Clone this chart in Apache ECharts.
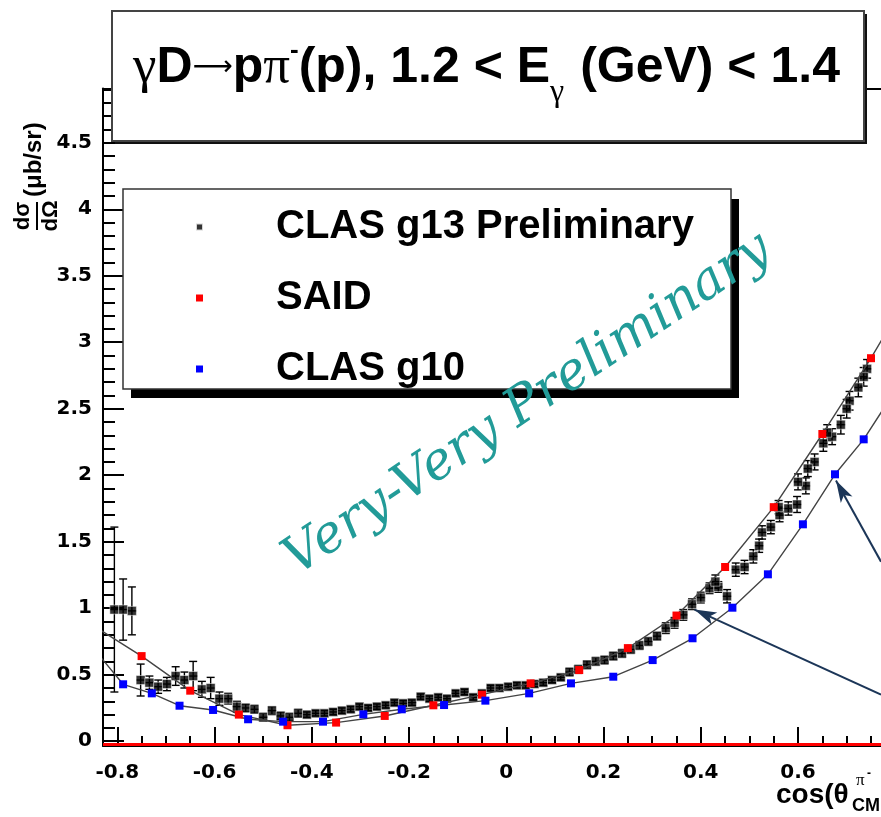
<!DOCTYPE html>
<html>
<head>
<meta charset="utf-8">
<script src="https://cdn.jsdelivr.net/npm/echarts@6/dist/echarts.min.js"></script>
<style>
  html, body { margin: 0; padding: 0; background: #fff; }
  #chart { width: 881px; height: 817px; }
</style>
</head>
<body>
<div id="chart"></div>
<script>
// CLAS g13 preliminary: cos(theta_CM) bin centres, dsigma/dOmega (ub/sr), stat. errors
const g13X = [-0.806, -0.788, -0.770, -0.752, -0.734, -0.716, -0.698, -0.680, -0.662, -0.644,
  -0.626, -0.608, -0.590, -0.572, -0.554, -0.536, -0.518, -0.500, -0.482, -0.464,
  -0.446, -0.428, -0.410, -0.392, -0.374, -0.356, -0.338, -0.320, -0.302, -0.284,
  -0.266, -0.248, -0.230, -0.212, -0.194, -0.176, -0.158, -0.140, -0.122, -0.104,
  -0.086, -0.068, -0.050, -0.032, -0.014, 0.004, 0.022, 0.040, 0.058, 0.076,
  0.094, 0.112, 0.130, 0.148, 0.166, 0.184, 0.202, 0.220, 0.238, 0.256,
  0.274, 0.292, 0.310, 0.328, 0.346, 0.364, 0.382, 0.400, 0.418, 0.436,
  0.454, 0.472, 0.490, 0.508, 0.526, 0.544, 0.562, 0.580, 0.598, 0.616,
  0.634, 0.652, 0.670, 0.688, 0.706, 0.724, 0.742,
  0.430, 0.520, 0.560, 0.600, 0.620, 0.660, 0.700, 0.735];
const g13Y = [0.99, 0.99, 0.98, 0.46, 0.44, 0.41, 0.43, 0.49, 0.46, 0.49,
  0.39, 0.40, 0.32, 0.32, 0.26, 0.25, 0.24, 0.18, 0.23, 0.19,
  0.18, 0.21, 0.20, 0.21, 0.21, 0.22, 0.23, 0.24, 0.26, 0.25,
  0.26, 0.27, 0.29, 0.285, 0.29, 0.335, 0.32, 0.33, 0.32, 0.36,
  0.37, 0.33, 0.36, 0.40, 0.40, 0.41, 0.42, 0.42, 0.43, 0.44,
  0.46, 0.48, 0.52, 0.54, 0.575, 0.60, 0.61, 0.64, 0.66, 0.69,
  0.72, 0.75, 0.79, 0.85, 0.89, 0.95, 1.03, 1.08, 1.15, 1.16,
  1.09, 1.29, 1.31, 1.39, 1.57, 1.61, 1.70, 1.75, 1.78, 1.92,
  2.10, 2.24, 2.29, 2.38, 2.56, 2.66, 2.80,
  1.20, 1.47, 1.76, 1.95, 2.05, 2.32, 2.50, 2.74];
const g13Err = [0.62, 0.23, 0.18, 0.12, 0.05, 0.05, 0.05, 0.07, 0.06, 0.11,
  0.06, 0.08, 0.05, 0.04, 0.04, 0.03, 0.03, 0.03, 0.03, 0.03,
  0.03, 0.03, 0.02, 0.02, 0.02, 0.02, 0.02, 0.02, 0.02, 0.02,
  0.02, 0.02, 0.02, 0.02, 0.02, 0.02, 0.02, 0.02, 0.02, 0.02,
  0.02, 0.02, 0.02, 0.02, 0.02, 0.02, 0.02, 0.02, 0.02, 0.02,
  0.02, 0.02, 0.03, 0.03, 0.03, 0.03, 0.03, 0.03, 0.03, 0.03,
  0.03, 0.03, 0.03, 0.04, 0.04, 0.04, 0.04, 0.04, 0.04, 0.04,
  0.05, 0.05, 0.05, 0.05, 0.05, 0.05, 0.05, 0.05, 0.06, 0.06,
  0.06, 0.06, 0.06, 0.07, 0.07, 0.07, 0.07,
  0.05, 0.05, 0.05, 0.06, 0.06, 0.06, 0.07, 0.07];
const g13HalfBin = 0.009;

// SAID partial-wave solution
const saidX = [-0.85, -0.75, -0.65, -0.55, -0.45, -0.35, -0.25, -0.15, -0.05,
  0.05, 0.15, 0.25, 0.35, 0.45, 0.55, 0.65, 0.75, 0.85];
const saidY = [0.87, 0.64, 0.38, 0.20, 0.12, 0.14, 0.19, 0.27, 0.35,
  0.435, 0.535, 0.70, 0.945, 1.31, 1.76, 2.31, 2.88, 3.50];

// CLAS g10 measurement
const g10X = [-0.845, -0.788, -0.729, -0.672, -0.603, -0.531, -0.459, -0.377, -0.294, -0.215,
  -0.128, -0.043, 0.047, 0.133, 0.220, 0.301, 0.383, 0.465, 0.538, 0.610,
  0.676, 0.735, 0.790];
const g10Y = [0.68, 0.428, 0.36, 0.267, 0.235, 0.165, 0.147, 0.147, 0.202, 0.24,
  0.272, 0.305, 0.36, 0.435, 0.485, 0.61, 0.774, 1.004, 1.255, 1.631,
  2.007, 2.27, 2.58];

// Axis ticks
const xTickValues = [-0.8, -0.6, -0.4, -0.2, 0, 0.2, 0.4, 0.6];
const xTickLabels = ['-0.8', '-0.6', '-0.4', '-0.2', '0', '0.2', '0.4', '0.6'];
const yTickValues = [0, 0.5, 1, 1.5, 2, 2.5, 3, 3.5, 4, 4.5];
const yTickLabels = ['0', '0.5', '1', '1.5', '2', '2.5', '3', '3.5', '4', '4.5'];

const X_MIN = -0.8294, X_MAX = 0.7706;
const Y_MIN = -0.036, Y_MAX = 4.908;

const xMinor = [];
for (let i = -16; i <= 15; i++) xMinor.push(+(i * 0.05).toFixed(2));
const yMinor = [];
for (let i = 0; i <= 49; i++) yMinor.push(+(i * 0.1).toFixed(1));

function pick(values, labels) {
  return function (v) {
    const i = values.findIndex(t => Math.abs(t - v) < 1e-6);
    return i >= 0 ? labels[i] : '';
  };
}

const TICK_FONT = { fontFamily: 'DejaVu Sans', fontWeight: 'bold', fontSize: 20, color: '#000' };
const BOLD = '"Liberation Sans", Arial, sans-serif';

const g13Points = g13X.map((x, i) => [x, g13Y[i]]);
const g13Bars = g13X.map((x, i) => [x, g13Y[i], g13Err[i], g13HalfBin]);
const saidPoints = saidX.map((x, i) => [x, saidY[i]]);
const g10Points = g10X.map((x, i) => [x, g10Y[i]]);

const chart = echarts.init(document.getElementById('chart'), null, { renderer: 'canvas' });

const hiddenLine = { show: false, onZero: false };

const option = {
  animation: false,
  backgroundColor: '#fff',
  grid: { left: 103, top: 88.5, right: -10, bottom: 71, containLabel: false },
  xAxis: [
    {
      type: 'value', min: X_MIN, max: X_MAX, position: 'bottom',
      axisLine: { show: true, onZero: false, lineStyle: { color: '#000', width: 2 } },
      axisTick: { show: true, inside: true, length: 19, customValues: xTickValues, lineStyle: { color: '#000', width: 2 } },
      axisLabel: Object.assign({ margin: 17, customValues: xTickValues, formatter: pick(xTickValues, xTickLabels) }, TICK_FONT),
      splitLine: { show: false }
    },
    {
      type: 'value', min: X_MIN, max: X_MAX, position: 'bottom',
      axisLine: hiddenLine,
      axisTick: { show: true, inside: true, length: 10, customValues: xMinor, lineStyle: { color: '#000', width: 2 } },
      axisLabel: { show: false },
      splitLine: { show: false }
    },
    {
      type: 'value', min: X_MIN, max: X_MAX, position: 'top',
      axisLine: { show: true, onZero: false, lineStyle: { color: '#000', width: 2 } },
      axisTick: { show: false }, axisLabel: { show: false }, splitLine: { show: false }
    }
  ],
  yAxis: [
    {
      type: 'value', min: Y_MIN, max: Y_MAX, position: 'left',
      axisLine: { show: true, onZero: false, lineStyle: { color: '#000', width: 2 } },
      axisTick: { show: true, inside: true, length: 21, customValues: yTickValues, lineStyle: { color: '#000', width: 2 } },
      axisLabel: Object.assign({ margin: 11, customValues: yTickValues, formatter: pick(yTickValues, yTickLabels) }, TICK_FONT),
      splitLine: { show: false }
    },
    {
      type: 'value', min: Y_MIN, max: Y_MAX, position: 'left',
      axisLine: hiddenLine,
      axisTick: { show: true, inside: true, length: 12, customValues: yMinor, lineStyle: { color: '#000', width: 2 } },
      axisLabel: { show: false },
      splitLine: { show: false }
    }
  ],
  legend: {
    orient: 'vertical', left: 195, top: 207, padding: 0,
    itemGap: 31, itemWidth: 7, itemHeight: 7, icon: 'rect',
    selectedMode: false,
    data: ['CLAS g13 Preliminary', 'SAID', 'CLAS g10'],
    textStyle: { fontFamily: BOLD, fontWeight: 'bold', fontSize: 40, lineHeight: 40, color: '#000', padding: [0, 0, 0, 68] }
  },
  series: [
    {
      name: 'g13 errors', type: 'custom', xAxisIndex: 0, yAxisIndex: 0, silent: true, z: 3,
      data: g13Bars,
      renderItem: function (params, api) {
        const x = api.value(0), y = api.value(1), e = api.value(2), h = api.value(3);
        const t = api.coord([x, y + e]), b = api.coord([x, y - e]);
        const l = api.coord([x - h, y]), r = api.coord([x + h, y]);
        const st = { stroke: '#000', lineWidth: 1.4 };
        const cap = 4;
        return {
          type: 'group', children: [
            { type: 'line', shape: { x1: t[0], y1: t[1], x2: b[0], y2: b[1] }, style: st },
            { type: 'line', shape: { x1: l[0], y1: l[1], x2: r[0], y2: r[1] }, style: st },
            { type: 'line', shape: { x1: t[0] - cap, y1: t[1], x2: t[0] + cap, y2: t[1] }, style: st },
            { type: 'line', shape: { x1: b[0] - cap, y1: b[1], x2: b[0] + cap, y2: b[1] }, style: st }
          ]
        };
      }
    },
    {
      name: 'CLAS g13 Preliminary', type: 'scatter', z: 4,
      symbol: 'rect', symbolSize: 9,
      itemStyle: { color: '#000', borderColor: '#fff', borderWidth: 0.6 },
      data: g13Points,
      markLine: {
        silent: true, animation: false,
        symbol: ['none', 'arrow'], symbolSize: [10, 22],
        label: { show: false },
        lineStyle: { color: '#1c3658', width: 2, type: 'solid' },
        data: [
          [{ coord: [0.7706, 0.35] }, { coord: [0.387, 0.99] }],
          [{ coord: [0.7706, 1.35] }, { coord: [0.678, 1.96] }]
        ]
      }
    },
    {
      name: 'SAID', type: 'line', z: 5,
      symbol: 'rect', symbolSize: 8, showAllSymbol: true,
      itemStyle: { color: '#ff0000' },
      lineStyle: { color: '#444', width: 1.4 },
      data: saidPoints,
      markLine: {
        silent: true, symbol: ['none', 'none'], label: { show: false },
        lineStyle: { color: '#ff0000', width: 3, type: 'solid' },
        data: [{ yAxis: -0.018 }]
      }
    },
    {
      name: 'CLAS g10', type: 'line', z: 5,
      symbol: 'rect', symbolSize: 8, showAllSymbol: true,
      itemStyle: { color: '#0000ff' },
      lineStyle: { color: '#444', width: 1.4 },
      data: g10Points
    }
  ],
  graphic: [
    // y-axis title: dsigma/dOmega (ub/sr), reading upward
    {
      type: 'group', x: 37, y: 216, rotation: Math.PI / 2, z: 100,
      children: [
        { type: 'text', x: 0, y: -14, style: { text: 'dσ', font: 'bold 22px ' + BOLD, fill: '#000', align: 'center', verticalAlign: 'middle' } },
        { type: 'line', shape: { x1: -14, y1: 0, x2: 14, y2: 0 }, style: { stroke: '#000', lineWidth: 2 } },
        { type: 'text', x: 0, y: 14, style: { text: 'dΩ', font: 'bold 22px ' + BOLD, fill: '#000', align: 'center', verticalAlign: 'middle' } },
        { type: 'text', x: 19, y: -3, style: { text: '(μb/sr)', font: 'bold 24px ' + BOLD, fill: '#000', align: 'left', verticalAlign: 'middle' } }
      ]
    },
    // x-axis title
    {
      type: 'group', z: 100,
      children: [
        { type: 'text', x: 776, y: 795, style: { text: 'cos(θ', font: 'bold 28px ' + BOLD, fill: '#000', align: 'left', verticalAlign: 'middle' } },
        { type: 'text', x: 856, y: 781, style: { text: 'π', font: '17px "Liberation Serif"', fill: '#000', align: 'left', verticalAlign: 'middle' } },
        { type: 'text', x: 867, y: 774, style: { text: '-', font: 'bold 12px ' + BOLD, fill: '#000', align: 'left', verticalAlign: 'middle' } },
        { type: 'text', x: 852, y: 806, style: { text: 'CM', font: 'bold 18px ' + BOLD, fill: '#000', align: 'left', verticalAlign: 'middle' } }
      ]
    },
    // title box with drop shadow
    { type: 'rect', z: 100, shape: { x: 115, y: 14, width: 752, height: 130 }, style: { fill: '#111' } },
    { type: 'rect', z: 101, shape: { x: 112, y: 11, width: 752, height: 130 }, style: { fill: '#fff', stroke: '#444', lineWidth: 2 } },
    {
      type: 'text', z: 102, x: 133, y: 68,
      style: {
        text: '{g|γ}{b|D}{a|⟶}{b|p}{g|π}{sup|-}{b|(p), 1.2 < E}{sub|γ}{b| (GeV) < 1.4}',
        align: 'left', verticalAlign: 'middle',
        rich: {
          b: { font: 'bold 50px ' + BOLD, fill: '#000' },
          g: { font: '53px "Liberation Serif"', fill: '#000' },
          a: { font: '28px "DejaVu Sans"', fill: '#000' },
          sup: { font: 'bold 26px ' + BOLD, fill: '#000', padding: [0, 0, 34, 0] },
          sub: { font: '32px "Liberation Serif"', fill: '#000', padding: [50, 2, 0, 0] }
        }
      }
    },
    // legend frame with drop shadow
    { type: 'rect', z: 1, shape: { x: 131, y: 199, width: 608, height: 199 }, style: { fill: '#000' } },
    { type: 'rect', z: 2, shape: { x: 123, y: 189, width: 608, height: 200 }, style: { fill: '#fff', stroke: '#333', lineWidth: 1.5 } },
    // watermark
    {
      type: 'text', z: 200, x: 528, y: 405, rotation: 0.59,
      style: {
        text: 'Very-Very Preliminary',
        font: 'italic 52px "DejaVu Serif"',
        fill: '#229b98', align: 'center', verticalAlign: 'middle'
      }
    }
  ]
};

chart.setOption(option);
</script>
</body>
</html>
